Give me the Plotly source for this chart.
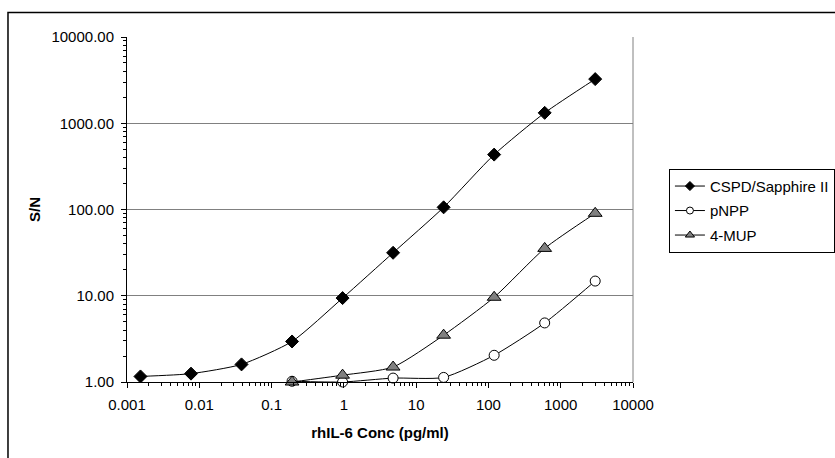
import plotly.graph_objects as go

# Data (5-fold serial dilutions of rhIL-6, pg/ml)
conc_cspd = [0.001536, 0.00768, 0.0384, 0.192, 0.96, 4.8, 24, 120, 600, 3000]
sn_cspd = [1.16, 1.25, 1.60, 2.95, 9.4, 31.5, 106, 433, 1320, 3250]

conc_pnpp = [0.192, 0.96, 4.8, 24, 120, 600, 3000]
sn_pnpp = [1.02, 1.00, 1.11, 1.13, 2.04, 4.84, 14.8]

conc_mup = [0.192, 0.96, 4.8, 24, 120, 600, 3000]
sn_mup = [1.00, 1.20, 1.49, 3.49, 9.6, 35.4, 90.3]

x_tickvals = [0.001, 0.01, 0.1, 1, 10, 100, 1000, 10000]
x_ticktext = ["0.001", "0.01", "0.1", "1", "10", "100", "1000", "10000"]
y_tickvals = [1, 10, 100, 1000, 10000]
y_ticktext = ["1.00", "10.00", "100.00", "1000.00", "10000.00"]

series_names = ["CSPD/Sapphire II", "pNPP", "4-MUP"]

FONT = "Liberation Sans, Arial, sans-serif"

def minor_vals(lo_exp, hi_exp):
    return [m * 10 ** e for e in range(lo_exp, hi_exp) for m in range(2, 10)]

styles = [
    dict(symbol="diamond", color="black", size=10, lsize=7),
    dict(symbol="circle", color="white", size=10, lsize=7),
    dict(symbol="triangle-up", color="#808080", size=12, lsize=8),
]
data = [(conc_cspd, sn_cspd), (conc_pnpp, sn_pnpp), (conc_mup, sn_mup)]

fig = go.Figure()
for name, (xs, ys), st in zip(series_names, data, styles):
    fig.add_trace(go.Scatter(
        x=xs, y=ys, name=name, mode="lines+markers", showlegend=False,
        cliponaxis=False,
        line=dict(color="black", width=1, shape="spline", smoothing=0.6),
        marker=dict(symbol=st["symbol"], size=st["size"], color=st["color"],
                    line=dict(color="black", width=1))))
# legend entries (smaller symbols, as in the original legend)
for i, (name, st) in enumerate(zip(series_names, styles)):
    fig.add_trace(go.Scatter(
        x=[None], y=[None], name=name, mode="lines+markers", legendgroup=str(i),
        line=dict(color="black", width=1),
        marker=dict(symbol=st["symbol"], size=st["lsize"], color=st["color"],
                    line=dict(color="black", width=1))))

W = 850  # wider than the window so the legend runs off the right edge, as in the original
fig.update_layout(
    width=W, height=458,
    margin=dict(l=127, r=W - 633, t=37, b=76),
    paper_bgcolor="white", plot_bgcolor="white",
    font=dict(family=FONT, size=15, color="black"),
    showlegend=True,
    legend=dict(x=1.071, y=0.618, xanchor="left", yanchor="top",
                bordercolor="black", borderwidth=1, bgcolor="white",
                font=dict(family=FONT, size=15, color="black"),
                traceorder="grouped", tracegroupgap=2, itemwidth=30),
    shapes=[
        dict(type="rect", xref="paper", yref="paper", x0=-0.2352, x1=1.6, y0=-0.4, y1=1.071,
             line=dict(color="black", width=1.5), fillcolor="rgba(0,0,0,0)", layer="below"),
        dict(type="line", xref="paper", yref="paper", x0=1, x1=1, y0=0, y1=1,
             line=dict(color="#808080", width=1), layer="below"),
    ],
)

fig.update_xaxes(
    type="log", range=[-3, 4],
    tickmode="array", tickvals=x_tickvals, ticktext=x_ticktext,
    ticks="outside", ticklen=5, tickcolor="black", tickwidth=1,
    showline=True, linecolor="black", linewidth=1,
    showgrid=False, zeroline=False,
    tickfont=dict(family=FONT, size=15, color="black"),
    ticklabelstandoff=4,
    minor=dict(ticks="outside", ticklen=3, tickcolor="black", tickwidth=1,
               tickmode="array", tickvals=minor_vals(-3, 4), showgrid=False),
    title=dict(text="<b>rhIL-6 Conc (pg/ml)</b>", font=dict(family=FONT, size=15, color="black"), standoff=15),
)
fig.update_yaxes(
    type="log", range=[0, 4],
    tickmode="array", tickvals=y_tickvals, ticktext=y_ticktext,
    ticks="outside", ticklen=5, tickcolor="black", tickwidth=1,
    showline=True, linecolor="black", linewidth=1,
    showgrid=True, gridcolor="#808080", gridwidth=1, zeroline=False,
    tickfont=dict(family=FONT, size=15, color="black"),
    ticklabelstandoff=4,
    minor=dict(ticks="outside", ticklen=3, tickcolor="black", tickwidth=1,
               tickmode="array", tickvals=minor_vals(0, 4), showgrid=False),
    title=dict(text="<b>S/N</b>", font=dict(family=FONT, size=15, color="black"), standoff=7),
)

fig.write_html(
    "out.html",
    config={"displayModeBar": False},
    post_script="document.body.style.margin='0px';document.body.style.overflow='hidden';"
                "document.documentElement.style.overflow='hidden';",
)
